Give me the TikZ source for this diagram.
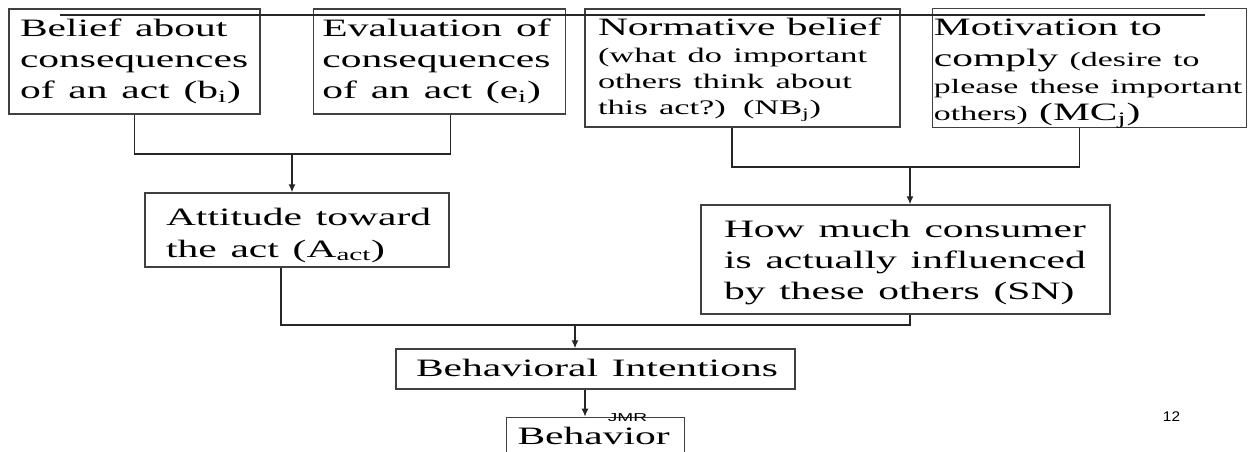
\documentclass[tikz,border=0pt]{standalone}
\usepackage{graphicx}
\usepackage{fontspec}
\setmainfont{Liberation Serif}
\setsansfont{Liberation Sans}
\usepackage{tikz}
\usetikzlibrary{arrows.meta,positioning,calc}
\setlength{\parindent}{0pt}
\newcommand{\wide}[1]{\scalebox{1.66}[1]{#1}}
\newcommand{\tallstrut}[1]{\rule{0pt}{#1pt}}
\newcommand{\deepstrut}[1]{\rule[-#1pt]{0pt}{#1pt}}
\begin{document}
\begin{tikzpicture}[x=1pt, y=-1pt,
    stage/.style={rectangle, draw=black!75, line width=1.4pt, align=left, inner sep=0pt},
    link/.style={draw=black!85, line width=1.3pt},
    arrow/.style={link, -{Latex[length=8pt,width=7pt]}}
]
    \path[use as bounding box] (0,0) rectangle (1254,452);
    \clip (0,0) rectangle (1254,452);

    \node[stage, minimum width=251pt, minimum height=105pt, text width=229pt, font=\fontsize{25}{31}\selectfont] (belief) at (134.5,61.5)
        {\tallstrut{28}\wide{Belief about}\\ \wide{consequences}\\ \wide{of an act (b\textsubscript{i})}\deepstrut{15}};
    \node[stage, minimum width=252pt, minimum height=105pt, text width=234pt, font=\fontsize{25}{31}\selectfont, right=52pt of belief] (eval)
        {\tallstrut{28}\wide{Evaluation of}\\ \wide{consequences}\\ \wide{of an act (e\textsubscript{i})}\deepstrut{15}};
    \node[stage, minimum width=315pt, minimum height=118pt, text width=289pt, font=\fontsize{20.7}{26}\selectfont] (norm) at (742.5,68)
        {\tallstrut{27}\wide{\fontsize{25}{26}\selectfont Normative belief}\\[1pt] \wide{(what do important}\\ \wide{others think about}\\ \wide{this act?) (NB\textsubscript{j})}\deepstrut{12}};
    \node[stage, minimum width=314pt, minimum height=118pt, text width=311pt, font=\fontsize{20.4}{27}\selectfont, right=31pt of norm] (motiv)
        {\tallstrut{27}\wide{\fontsize{25}{27}\selectfont Motivation to}\\[4pt] \wide{{\fontsize{25}{27}\selectfont comply} (desire to}\\ \wide{please these important}\\ \wide{others) {\fontsize{25}{27}\selectfont (MC\textsubscript{j})}}\deepstrut{6}};

    \node[stage, minimum width=304pt, minimum height=74pt, text width=262pt, font=\fontsize{25}{32}\selectfont] (attitude) at (297,230)
        {\tallstrut{32}\wide{Attitude toward}\\ \wide{the act (A\textsubscript{act})}\deepstrut{10}};
    \node[stage, minimum width=409pt, minimum height=109pt, text width=363pt, font=\fontsize{25}{31}\selectfont] (subj) at (905.5,259.5)
        {\tallstrut{32}\wide{How much consumer}\\ \wide{is actually influenced}\\ \wide{by these others (SN)}\deepstrut{15}};

    \node[stage, minimum width=399pt, minimum height=40pt, text width=359pt, font=\fontsize{25}{31}\selectfont] (intent) at (595.5,369)
        {\tallstrut{27}\wide{Behavioral Intentions}\deepstrut{13}};
    \node[stage, minimum width=178pt, minimum height=47pt, text width=156pt, font=\fontsize{25}{31}\selectfont, below=27pt of intent] (behav)
        {\tallstrut{27}\wide{Behavior}\deepstrut{20}};

    \draw[link, line width=1.2pt] (60,15) -- (1205,15);

    \coordinate (j1) at (292,154);
    \draw[link] (belief.south) |- (j1) -| ([xshift=11pt]eval.south);
    \draw[arrow] (j1) -- (j1 |- attitude.north);

    \coordinate (j2) at (910,167);
    \draw[link] ([xshift=-10.5pt]norm.south) |- (j2) -| ([xshift=-10pt]motiv.south);
    \draw[arrow] (j2) -- (j2 |- subj.north);

    \coordinate (j3) at (575,325);
    \draw[link] ([xshift=-16pt]attitude.south) |- (j3) -| ([xshift=4.5pt]subj.south);
    \draw[arrow] (j3) -- (j3 |- intent.north);
    \draw[arrow] ([xshift=-10.5pt]intent.south) -- ([xshift=-10.5pt]intent.south |- behav.north);

    \node[inner sep=0pt, font=\sffamily\fontsize{11.5}{12}\selectfont] (jmr) at (627.5,417.5) {\wide{JMR}};
    \node[inner sep=0pt, font=\sffamily\fontsize{14}{15}\selectfont] (page) at (1171.5,417) {\scalebox{1.1}[1]{12}};
\end{tikzpicture}
\end{document}
